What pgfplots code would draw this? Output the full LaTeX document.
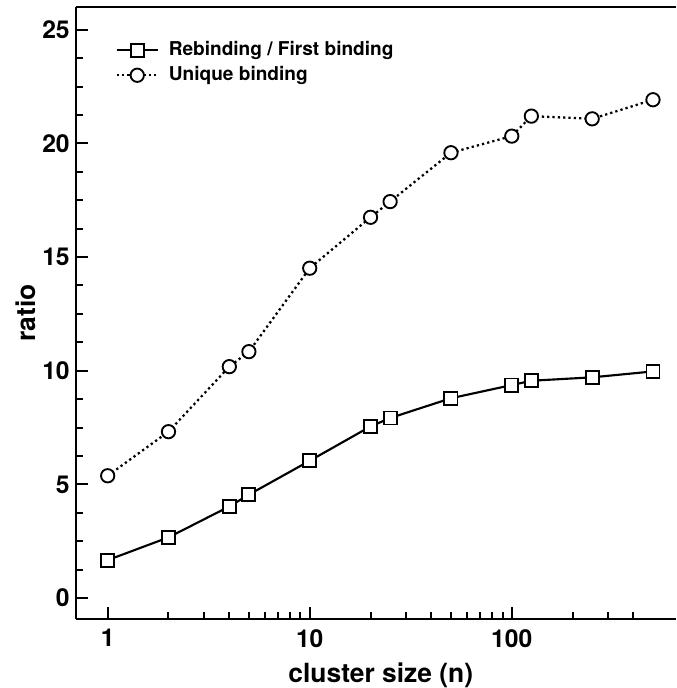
\documentclass[border=0pt]{standalone}
\usepackage{fontspec}
\setmainfont{TeX Gyre Heros}
\usepackage{pgfplots}
\pgfplotsset{compat=1.18}
\begin{document}
\begin{tikzpicture}
\begin{axis}[
  scale only axis,
  width=450pt, height=459pt,
  xmode=log,
  xmin=0.697, xmax=650,
  ymin=-0.92, ymax=26,
  separate axis lines,
  axis x line=box,
  axis y line=left,
  y axis line style={-},
  axis line style={line width=1.5pt},
  xtick={1,10,100},
  xticklabels={1,10,100},
  minor xtick={2,3,4,5,6,7,8,9,20,30,40,50,60,70,80,90,200,300,400},
  ytick={0,5,10,15,20,25},
  minor y tick num=3,
  xtick pos=left,
  ytick pos=left,
  tick align=inside,
  major tick length=9pt,
  minor tick length=5.5pt,
  every tick/.style={line width=1.5pt, black},
  /pgf/number format/assume math mode=true,
  tick label style={font=\fontsize{18.5pt}{22pt}\selectfont\bfseries},
  xticklabel style={yshift=-4.2pt},
  yticklabel style={xshift=-1.2pt},
  xlabel={cluster size (n)},
  ylabel={ratio},
  every axis x label/.style={at={(axis description cs:0.508,0)}, anchor=base, yshift=-47.25pt},
  every axis y label/.style={at={(axis description cs:-0.0683,0.5)}, anchor=base, rotate=90},
  xlabel style={font=\fontsize{19.8pt}{23pt}\selectfont\bfseries},
  ylabel style={font=\fontsize{19.8pt}{23pt}\selectfont\bfseries},
  legend style={at={(axis description cs:0,1)}, anchor=north west, xshift=29.4pt, yshift=-25.5pt,
    draw=none, fill=none, inner sep=0pt, column sep=7.3pt, row sep=5.1pt,
    font=\fontsize{14.3pt}{17pt}\selectfont\bfseries,
    nodes={inner sep=0pt, text height=10.5pt, text depth=3.1pt}},
  legend cell align=left,
  legend image code/.code={
    \draw[mark repeat=2,mark phase=2,#1] plot coordinates {(0pt,0pt) (15.5pt,0pt) (31pt,0pt)};
  },
]
\addplot[black, line width=1.6pt, mark=square*, mark size=4.9pt, mark options={solid, fill=white, draw=black, line width=1.4pt}]
coordinates {(1,1.67) (2,2.67) (4,4.03) (5,4.55) (10,6.04) (20,7.55) (25,7.92) (50,8.79) (100,9.37) (125,9.56) (250,9.71) (500,9.97)};
\addlegendentry{Rebinding / First binding}
\addplot[black, line width=1.7pt, dash pattern=on 1.7pt off 2.3pt, mark=*, mark size=5pt, mark options={solid, fill=white, draw=black, line width=1.4pt}]
coordinates {(1,5.38) (2,7.32) (4,10.18) (5,10.84) (10,14.51) (20,16.75) (25,17.44) (50,19.59) (100,20.32) (125,21.2) (250,21.08) (500,21.92)};
\addlegendentry{Unique binding}
\end{axis}
\pgfresetboundingbox
\path[use as bounding box] (-57pt,-51.75pt) rectangle (450pt,464.25pt);
\end{tikzpicture}
\end{document}
